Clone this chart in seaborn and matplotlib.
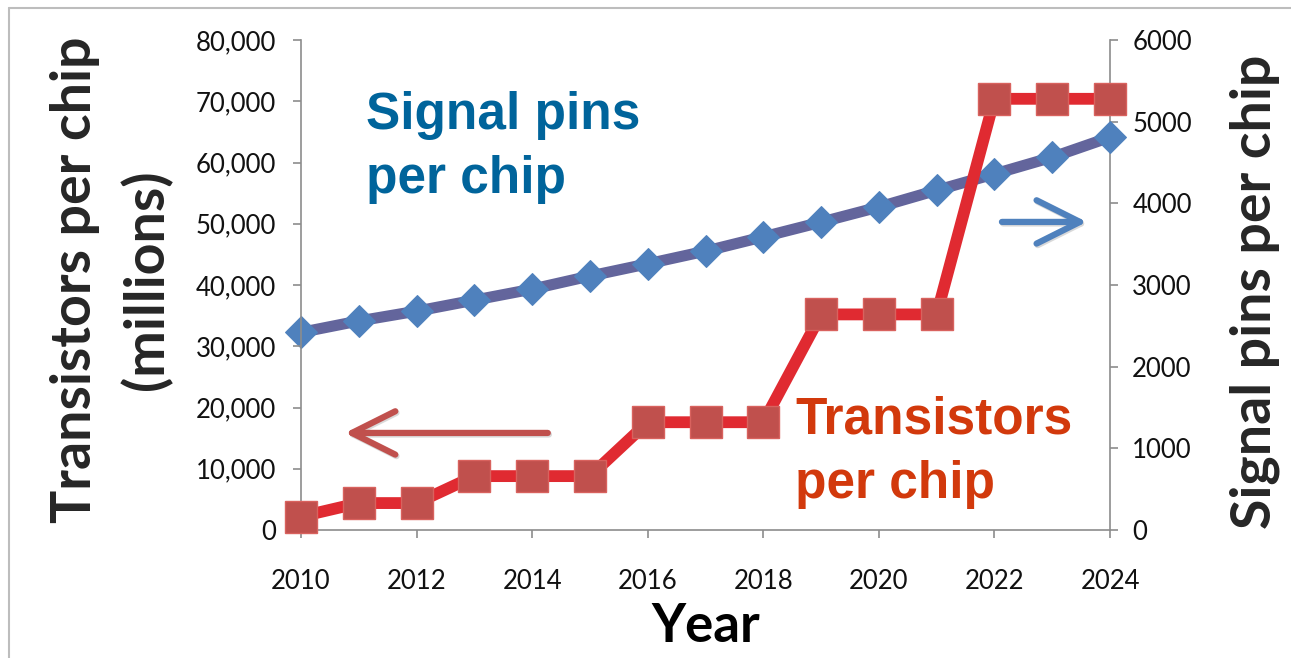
import matplotlib
matplotlib.use("Agg")
import matplotlib.pyplot as plt
from matplotlib.lines import Line2D
from matplotlib.ticker import FuncFormatter
import seaborn as sns
import pandas as pd

years = list(range(2010, 2025))
transistors_millions = [2200, 4400, 4400, 8800, 8800, 8800, 17600, 17600, 17600,
                        35200, 35200, 35200, 70400, 70400, 70400]
signal_pins = [2420, 2560, 2680, 2815, 2950, 3110, 3260, 3415, 3590,
               3770, 3955, 4160, 4360, 4565, 4810]

left_ticks = [0, 10000, 20000, 30000, 40000, 50000, 60000, 70000, 80000]
right_ticks = [0, 1000, 2000, 3000, 4000, 5000, 6000]
year_ticks = [2010, 2012, 2014, 2016, 2018, 2020, 2022, 2024]

df = pd.DataFrame({"year": years, "transistors": transistors_millions, "pins": signal_pins})

sns.set_theme(style="white")
plt.rcParams["font.family"] = ["Lato", "DejaVu Sans"]

fig = plt.figure(figsize=(12.91, 6.58), dpi=100)
ax = fig.add_axes([0.2332, 0.1945, 0.6266, 0.7447])
ax2 = ax.twinx()

spine_grey = "#8C8C8C"

# signal pins (right axis), drawn underneath
sns.lineplot(data=df, x="year", y="pins", ax=ax2, color="#63659C", linewidth=8,
             marker="D", markersize=16, markerfacecolor="#4F81BD",
             markeredgecolor="#4F81BD", clip_on=False, zorder=3)

# transistors (left axis), drawn on top
sns.lineplot(data=df, x="year", y="transistors", ax=ax, color="#E02A31", linewidth=8.5,
             marker="s", markersize=23, markerfacecolor="#C0504D",
             markeredgecolor="#D9625E", markeredgewidth=1.0, clip_on=False, zorder=3)

ax.set_zorder(ax2.get_zorder() + 1)
ax.patch.set_visible(False)

ax.set_xlim(2010, 2024)
ax.set_ylim(0, 80000)
ax2.set_ylim(0, 6000)
ax.set_xticks(year_ticks)
ax.set_yticks(left_ticks)
ax2.set_yticks(right_ticks)
ax.yaxis.set_major_formatter(FuncFormatter(lambda v, p: f"{int(v):,}"))
ax2.yaxis.set_major_formatter(FuncFormatter(lambda v, p: f"{int(v)}"))

for a in (ax, ax2):
    for s in a.spines.values():
        s.set_visible(False)
    a.grid(False)
ax.spines["left"].set_visible(True)
ax.spines["bottom"].set_visible(True)
ax2.spines["right"].set_visible(True)
for s in (ax.spines["left"], ax.spines["bottom"], ax2.spines["right"]):
    s.set_color(spine_grey)
    s.set_linewidth(1.2)

ax.tick_params(axis="both", which="major", direction="out", length=6, width=1.2,
               color=spine_grey, labelsize=18.5, labelcolor="#111111")
ax.tick_params(axis="y", left=True, pad=12)
ax.tick_params(axis="x", bottom=True, pad=22)
ax2.tick_params(axis="y", right=True, direction="out", length=6, width=1.2,
                color=spine_grey, labelsize=18.5, labelcolor="#111111", pad=10)

ax.set_xlabel("Year", fontsize=38, fontweight="bold", color="black", labelpad=6)
ax.set_ylabel("")
ax2.set_ylabel("")

# axis titles
fig.text(0.058, 0.575, "Transistors per chip", rotation=90, fontsize=40,
         fontweight="bold", ha="center", va="center")
fig.text(0.113, 0.575, "(millions)", rotation=90, fontsize=40,
         fontweight="bold", ha="center", va="center")
fig.text(0.972, 0.557, "Signal pins per chip", rotation=90, fontsize=40,
         fontweight="bold", ha="center", va="center")

# series labels
ax.text(2011.12, 62500, "Signal pins\nper chip", fontsize=37, fontweight="bold",
        family=["Liberation Sans", "DejaVu Sans"], color="#00649B",
        ha="left", va="center", linespacing=1.4)
ax.text(2018.55, 12700, "Transistors\nper chip", fontsize=37, fontweight="bold",
        family=["Liberation Sans", "DejaVu Sans"], color="#D2390C",
        ha="left", va="center", linespacing=1.4)

# direction arrows pointing to each series' axis
head = "->,head_length=2.6,head_width=1.3"
arrow_left = dict(arrowstyle=head, color="#C0504D", lw=4.5, shrinkA=0, shrinkB=0,
                  capstyle="round", joinstyle="round")
arrow_right = dict(arrowstyle=head, color="#4F81BD", lw=4.5, shrinkA=0, shrinkB=0,
                   capstyle="round", joinstyle="round")
shadow = dict(arrowstyle=head, color="#D9D9D9", lw=4.5, shrinkA=0, shrinkB=0,
              capstyle="round", joinstyle="round")
ax.annotate("", xy=(2010.78, 15600), xytext=(2014.29, 15600), arrowprops=shadow,
            annotation_clip=False)
ax.annotate("", xy=(2010.76, 15850), xytext=(2014.27, 15850), arrowprops=arrow_left,
            annotation_clip=False)
ax.annotate("", xy=(2023.62, 50050), xytext=(2022.15, 50050), arrowprops=shadow,
            annotation_clip=False)
ax.annotate("", xy=(2023.60, 50300), xytext=(2022.13, 50300), arrowprops=arrow_right,
            annotation_clip=False)

# frame edges
fig.add_artist(Line2D([9 / 1291, 9 / 1291], [0, 1 - 8 / 658], transform=fig.transFigure,
                      color="#BDBDBD", lw=1.5))
fig.add_artist(Line2D([9 / 1291, 1], [1 - 8 / 658, 1 - 8 / 658], transform=fig.transFigure,
                      color="#BDBDBD", lw=1.5))

fig.savefig("out.png", dpi=100, facecolor="white")
